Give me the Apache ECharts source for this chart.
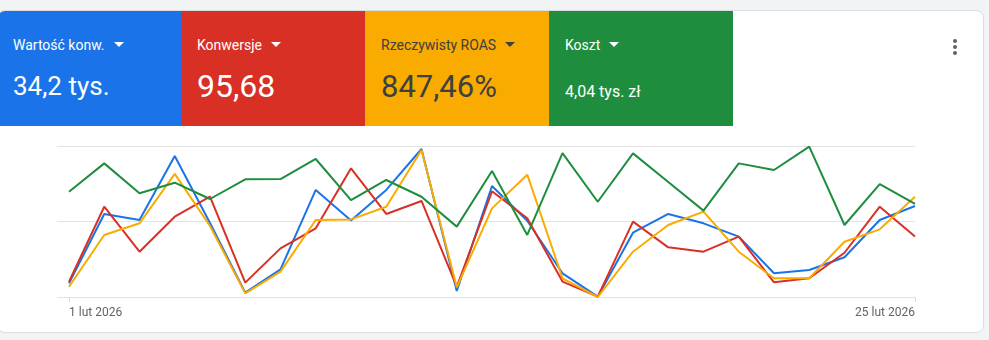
<!DOCTYPE html>
<html lang="pl">
<head>
<meta charset="utf-8">
<title>Wyniki kampanii</title>
<script src="https://cdn.jsdelivr.net/npm/echarts@6/dist/echarts.min.js"></script>
<style>
  html, body { margin: 0; padding: 0; }
  body {
    width: 989px; height: 340px; overflow: hidden; position: relative;
    background: #f1f3f4; font-family: Roboto, "Noto Sans", Arial, sans-serif;
  }
  .card {
    position: absolute; left: -3px; top: 10px; width: 987px; height: 323px;
    background: #fff; border: 1px solid #dadce0; border-radius: 8px;
    box-sizing: border-box; overflow: hidden;
  }
  .tiles { position: absolute; left: -1px; top: -1px; height: 116px; display: flex; }
  .tile { width: 184px; height: 116px; position: relative; color: #fff; }
  .tile .label { position: absolute; left: 16px; top: 27px; font-size: 14px; line-height: 16px; white-space: nowrap; }
  .tile .caret {
    display: inline-block; width: 0; height: 0; margin-left: 9px; vertical-align: 3px;
    border-left: 5px solid transparent; border-right: 5px solid transparent; border-top: 5px solid currentColor;
  }
  .tile .value { position: absolute; left: 16px; white-space: nowrap; line-height: 1; }
  .menu { position: absolute; left: 955px; top: 28px; }
  .menu i { display: block; width: 4px; height: 4px; border-radius: 50%; background: #5f6368; margin-bottom: 2px; }
  #chart { position: absolute; left: 0; top: 0; width: 989px; height: 340px; }
</style>
</head>
<body>
<div class="card">
  <div class="tiles" id="tiles"></div>
  <div class="menu"><i></i><i></i><i></i></div>
</div>
<div id="chart"></div>
<script>
// Day labels for the reporting period (1–25 lut 2026)
const days = [
  '1 lut 2026', '2 lut 2026', '3 lut 2026', '4 lut 2026', '5 lut 2026',
  '6 lut 2026', '7 lut 2026', '8 lut 2026', '9 lut 2026', '10 lut 2026',
  '11 lut 2026', '12 lut 2026', '13 lut 2026', '14 lut 2026', '15 lut 2026',
  '16 lut 2026', '17 lut 2026', '18 lut 2026', '19 lut 2026', '20 lut 2026',
  '21 lut 2026', '22 lut 2026', '23 lut 2026', '24 lut 2026', '25 lut 2026'
];

// Each metric is plotted on its own normalised scale (0–100)
const conversionValue = [9.1, 55, 51, 93.4, 49, 2.9, 18.3, 70.9, 50.6, 70.9, 98, 4, 73.5, 50.5, 15.7, 0.2, 42.6, 55, 48.8, 40, 15.7, 17.9, 26.3, 51, 60.3];
const conversions     = [10.2, 59.8, 30, 53.2, 66.4, 9.5, 32.2, 45.5, 85.2, 55, 63.6, 6.8, 70, 52.1, 10.2, 0.2, 49.9, 32.9, 30, 40, 9.7, 12.4, 29.3, 59.8, 40];
const roas            = [6.8, 41.1, 48.8, 81.5, 47, 2.4, 16.8, 51, 51.4, 59.8, 97.4, 6.4, 58.7, 81, 12.4, 0, 30, 47.7, 56.5, 30, 12.4, 12.4, 36.6, 44.8, 66.4];
const cost            = [69.7, 88.5, 68.7, 75.7, 64.9, 77.9, 78.1, 91.4, 64.2, 77.5, 66.4, 46.6, 83.4, 41.1, 95.3, 63.1, 95.1, 76.2, 57.2, 88.5, 84.1, 99.6, 47.7, 74.8, 61.6];

// Scorecard tiles
const tileNames  = ['Wartość konw.', 'Konwersje', 'Rzeczywisty ROAS', 'Koszt'];
const tileValues = ['34,2 tys.', '95,68', '847,46%', '4,04 tys. zł'];
const colors     = ['#1a73e8', '#d93025', '#f9ab00', '#1e8e3e'];
const textColors = ['#ffffff', '#ffffff', '#3c4043', '#ffffff'];
const valueSizes = [26, 32, 31, 16];
const valueTops  = [63, 60, 61, 74];

const tilesEl = document.getElementById('tiles');
tileNames.forEach((name, i) => {
  const t = document.createElement('div');
  t.className = 'tile';
  t.style.background = colors[i];
  t.style.color = textColors[i];
  t.innerHTML = '<div class="label">' + name + '<span class="caret"></span></div>' +
    '<div class="value" style="font-size:' + valueSizes[i] + 'px;top:' + valueTops[i] + 'px">' +
    tileValues[i] + '</div>';
  tilesEl.appendChild(t);
});

const chart = echarts.init(document.getElementById('chart'), null, { renderer: 'canvas' });

const lineSeries = (name, data, color) => ({
  name, type: 'line', data,
  xAxisIndex: 1, yAxisIndex: 1,
  showSymbol: false, symbol: 'none',
  lineStyle: { width: 2, color },
  itemStyle: { color },
  silent: true
});

const edgeOnly = (idx) => idx === 0 || idx === days.length - 1;

chart.setOption({
  animation: false,
  backgroundColor: 'transparent',
  textStyle: { fontFamily: 'Roboto, "Noto Sans", sans-serif' },
  grid: [
    // horizontal guide lines, slightly wider than the plotted range
    { left: 57, right: 74, top: 146, bottom: 43 },
    // plotted lines
    { left: 69, right: 74, top: 146, bottom: 43 }
  ],
  xAxis: [
    { gridIndex: 0, type: 'value', min: 0, max: 1, show: false },
    {
      gridIndex: 1, type: 'category', data: days, boundaryGap: false,
      axisLine: { show: false },
      axisTick: { show: true, interval: edgeOnly, length: 5, lineStyle: { color: '#dadce0', width: 1 } },
      axisLabel: {
        show: true, interval: edgeOnly, margin: 10, fontSize: 12, color: '#5f6368',
        alignMinLabel: 'left', alignMaxLabel: 'right'
      },
      splitLine: { show: false }
    }
  ],
  yAxis: [
    {
      gridIndex: 0, type: 'value', min: 0, max: 100, interval: 50,
      axisLine: { show: false }, axisTick: { show: false }, axisLabel: { show: false },
      splitLine: { show: true, lineStyle: { color: '#e3e3e3', width: 1 } }
    },
    {
      gridIndex: 1, type: 'value', min: 0, max: 100, interval: 50, show: false,
      splitLine: { show: false }
    }
  ],
  series: [
    lineSeries('Wartość konw.', conversionValue, colors[0]),
    lineSeries('Konwersje', conversions, colors[1]),
    lineSeries('Rzeczywisty ROAS', roas, colors[2]),
    lineSeries('Koszt', cost, colors[3])
  ]
});
</script>
</body>
</html>
